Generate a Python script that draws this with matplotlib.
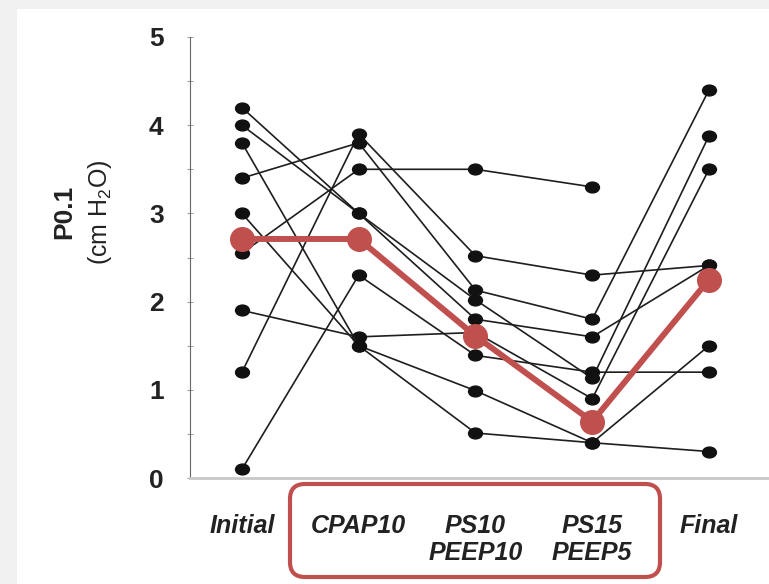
import numpy as np
import matplotlib.pyplot as plt
from matplotlib.patches import FancyBboxPatch, Rectangle
from matplotlib.path import Path

plt.rcParams['font.family'] = ['Liberation Sans', 'DejaVu Sans']
plt.rcParams['mathtext.default'] = 'regular'

# categories on the x axis
etapak = ['Initial', 'CPAP10', 'PS10\nPEEP10', 'PS15\nPEEP5', 'Final']

# one row per patient (Initial, CPAP10, PS10, PS15, Final)
p1 = [2.55, 3.5, 3.5, 3.3, np.nan]
p2 = [1.2, 3.9, 2.52, 2.3, 2.41]
p3 = [3.4, 3.8, 2.13, 1.8, 4.4]
p4 = [4.2, 3.0, 2.02, 1.13, 3.88]
p5 = [4.0, 3.0, 1.8, 1.6, 2.41]
p6 = [0.1, 2.3, 1.39, 1.2, 1.2]
p7 = [1.9, 1.6, 1.65, 0.9, 3.5]
p8 = [3.8, 1.5, 0.99, 0.4, 1.5]
p9 = [3.0, 1.5, 0.51, 0.4, 0.3]
gaixoak = [p1, p2, p3, p4, p5, p6, p7, p8, p9]

# mean line (red)
batazbestekoa = [2.71, 2.71, 1.61, 0.64, 2.25]

gorria = '#c0504d'

# slightly flattened dot
zirk = Path.unit_circle()
elipsea = Path(zirk.vertices * np.array([1.0, 0.78]), zirk.codes)

fig = plt.figure(figsize=(7.69, 5.84), dpi=100)
fig.patch.set_facecolor('#f0f0f0')
fig.patches.append(Rectangle((17/769, 0), 1, (584-9)/584, transform=fig.transFigure,
                             facecolor='white', edgecolor='none', zorder=-10))

ax = fig.add_axes([190/769, 106/584, (769-190)/769, (478-37)/584])
ax.set_facecolor('none')

x = np.arange(len(etapak))
for p in gaixoak:
    ax.plot(x, p, '-', color='#1e1e1e', lw=1.2, marker=elipsea, markersize=10,
            markerfacecolor='#111111', markeredgecolor='#111111', clip_on=False, zorder=3)

ax.plot(x, batazbestekoa, '-', color=gorria, lw=4.3, marker='o', markersize=17,
        clip_on=False, zorder=5, solid_capstyle='round')

ax.set_xlim(-0.445, 4.514)
ax.set_ylim(0, 5)

ax.spines['top'].set_visible(False)
ax.spines['right'].set_visible(False)
ax.spines['left'].set_color('#666666')
ax.spines['left'].set_linewidth(0.8)
ax.spines['bottom'].set_color('#c8c8c8')
ax.spines['bottom'].set_linewidth(2)

ax.set_yticks(range(6))
ax.set_yticks(np.arange(0, 5.01, 0.5), minor=True)
ax.set_yticklabels([str(i) for i in range(6)], fontsize=19, fontweight='bold', color='#222222')
ax.tick_params(axis='y', which='both', direction='inout', length=4, width=0.6,
               color='#888888', pad=17)

ax.set_xticks(x)
ax.set_xticklabels(etapak, fontsize=18, fontweight='bold', style='italic',
                   color='#222222', linespacing=1.15, va='top')
ax.tick_params(axis='x', length=0, pad=26)

# y axis label
fig.text(64/769, 1 - 212/584, 'P0.1', rotation=90, ha='center', va='center',
         fontsize=19, fontweight='bold', color='#222222')
fig.text(100/769, 1 - 212/584, '(cm H$_2$O)', rotation=90, ha='center', va='center',
         fontsize=18, color='#222222')

# red rounded box round the middle labels
kutxa = FancyBboxPatch((2.90, 0.07), 3.70, 0.93, boxstyle='round,pad=0,rounding_size=0.15',
                       transform=fig.dpi_scale_trans, facecolor='none',
                       edgecolor=gorria, linewidth=3)
fig.patches.append(kutxa)

fig.savefig('out.png', dpi=100, facecolor=fig.get_facecolor())
